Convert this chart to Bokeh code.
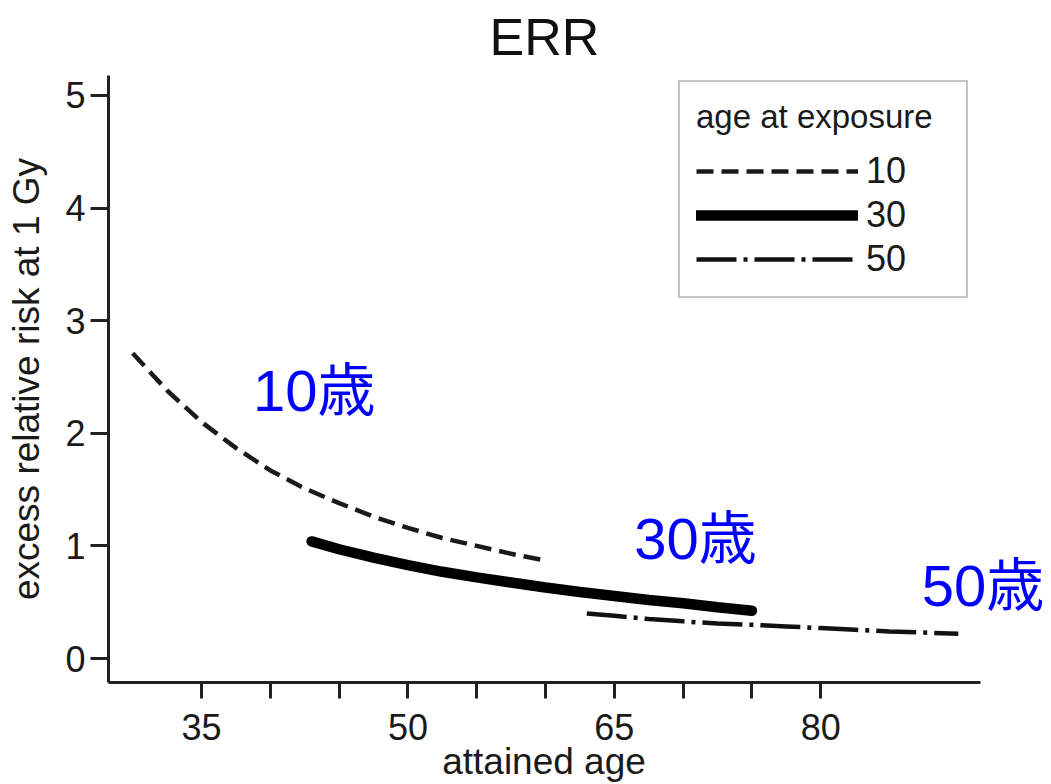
from bokeh.plotting import figure
from bokeh.models import Range1d, FixedTicker, Label, Legend, LegendItem
from bokeh.embed import file_html
from bokeh.resources import INLINE

# ---- data ----
age10 = [30, 32.5, 35, 37.5, 40, 42.5, 45, 47.5, 50, 52.5, 55, 57.5, 60]
err10 = [2.71, 2.38, 2.10, 1.87, 1.67, 1.51, 1.38, 1.26, 1.16, 1.07, 1.00, 0.93, 0.87]

age30 = [43, 45, 47.5, 50, 52.5, 55, 57.5, 60, 62.5, 65, 67.5, 70, 72.5, 75]
err30 = [1.04, 0.97, 0.895, 0.83, 0.77, 0.72, 0.675, 0.63, 0.59, 0.555, 0.52, 0.49, 0.455, 0.425]

age50 = [63, 65, 67.5, 70, 72.5, 75, 77.5, 80, 82.5, 85, 87.5, 90]
err50 = [0.40, 0.38, 0.35, 0.33, 0.31, 0.30, 0.285, 0.27, 0.255, 0.24, 0.23, 0.22]

legend_labels = ["10", "30", "50"]
x_ticks = [35, 40, 45, 50, 55, 60, 65, 70, 75, 80]
x_tick_labels = {35: "35", 50: "50", 65: "65", 80: "80"}
y_ticks = [0, 1, 2, 3, 4, 5]

note_texts = ["10歳", "30歳", "50歳"]
note_x = [43.2, 70.9, 91.8]
note_y = [2.38, 1.07, 0.65]

FONT = "Liberation Sans"
X_AXIS_END = 91.6

p = figure(width=1051, height=784,
           x_range=Range1d(28.24, 96.77), y_range=Range1d(-0.213, 5.177),
           output_backend="svg", toolbar_location=None,
           min_border_left=108, min_border_right=0,
           min_border_top=74, min_border_bottom=102)

p.title.text = "ERR"
p.title.align = "left"
p.title.vertical_align = "top"
p.title.text_font = FONT
p.title.text_font_size = "52px"
p.title.text_font_style = "normal"
p.title.text_color = "#111111"
p.title.standoff = 15
p.title.offset = 381

p.grid.visible = False
p.outline_line_color = None
p.background_fill_color = "white"
p.border_fill_color = "white"

for ax in (p.xaxis[0], p.yaxis[0]):
    ax.axis_line_width = 3
    ax.axis_line_color = "#222222"
    ax.major_tick_line_width = 3
    ax.major_tick_line_color = "#222222"
    ax.major_tick_in = 0
    ax.minor_tick_line_color = None
    ax.major_label_text_font = FONT
    ax.major_label_text_color = "#1a1a1a"
    ax.axis_label_text_font = FONT
    ax.axis_label_text_font_style = "normal"
    ax.axis_label_text_color = "#1a1a1a"

p.xaxis.bounds = (28.24, X_AXIS_END)
p.xaxis.ticker = FixedTicker(ticks=x_ticks)
p.xaxis.major_label_overrides = {t: x_tick_labels.get(t, "") for t in x_ticks}
p.xaxis.major_tick_out = 16
p.xaxis.major_label_text_font_size = "36px"
p.xaxis.major_label_standoff = 15
# trailing no-break spaces shift the centred label left, under the drawn axis
p.xaxis.axis_label = "attained age" + "\u00a0" * 7
p.xaxis.axis_label_text_font_size = "37px"
p.xaxis.axis_label_standoff = -2

p.yaxis.ticker = FixedTicker(ticks=y_ticks)
p.yaxis.major_tick_out = 18
p.yaxis.major_label_text_font_size = "36px"
p.yaxis.major_label_standoff = 5
p.yaxis.axis_label = "excess relative risk at 1 Gy"
p.yaxis.axis_label_text_font_size = "37px"
p.yaxis.axis_label_standoff = 15

r10 = p.line(age10, err10, line_color="#1a1a1a", line_width=4.5, line_dash="17 8")
r30 = p.line(age30, err30, line_color="#000000", line_width=10.5, line_cap="round")
r50 = p.line(age50, err50, line_color="#111111", line_width=4.5, line_dash="40 7 4 7")

legend = Legend(items=[LegendItem(label=legend_labels[0], renderers=[r10]),
                       LegendItem(label=legend_labels[1], renderers=[r30]),
                       LegendItem(label=legend_labels[2], renderers=[r50])],
                location=(570, 384))
legend.title = "age at exposure"
legend.title_text_font = FONT
legend.title_text_font_size = "33px"
legend.title_text_font_style = "normal"
legend.title_text_color = "#1a1a1a"
legend.title_standoff = 14
legend.label_text_font = FONT
legend.label_text_font_size = "36px"
legend.label_text_color = "#1a1a1a"
legend.label_standoff = 8
legend.label_width = 84
legend.glyph_width = 162
legend.glyph_height = 40
legend.label_height = 40
legend.spacing = 2
legend.padding = 16
legend.margin = 0
legend.border_line_color = "#888888"
legend.border_line_width = 2
legend.background_fill_color = "white"
legend.background_fill_alpha = 1.0
p.add_layout(legend, "center")

for t, x, y in zip(note_texts, note_x, note_y):
    p.add_layout(Label(x=x, y=y, text=t, text_align="center", text_baseline="middle",
                       text_font="Liberation Sans, Noto Sans CJK JP",
                       text_font_size="58px", text_color="#0000ff"))

open("out.html", "w").write(file_html(p, INLINE))
